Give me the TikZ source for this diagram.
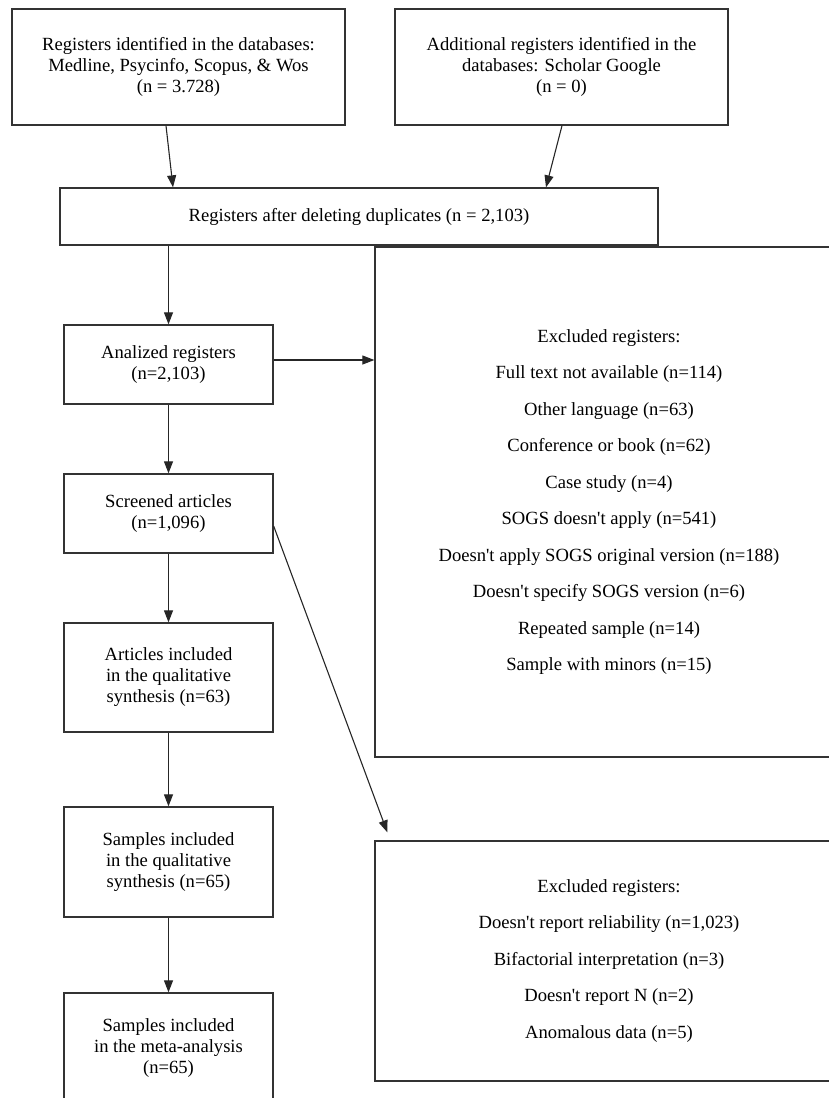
\documentclass[tikz,border=0pt]{standalone}
\usepackage{fontspec}
\setmainfont{Liberation Serif}
\usetikzlibrary{arrows.meta}

\begin{document}
\begin{tikzpicture}[x=1pt,y=-1pt,
    box/.style={draw=black!80,line width=1.3pt,align=center,inner sep=0pt,
      font=\fontsize{18.6}{21}\selectfont},
    exclbox/.style={box,font=\fontsize{18.6}{36.5}\selectfont},
    arr/.style={draw=black!85,line width=1.1pt,-{Triangle[length=12pt,width=9pt]}}]
    \useasboundingbox (0,0) rectangle (829,1098);
    \clip (0,0) rectangle (829,1098);
%    top row
    \node[box,minimum width=333pt,minimum height=116pt] (regdb) at (178.5,67)
      {Registers identified in the databases:\\Medline, Psycinfo, Scopus, \& Wos\\(n = 3.728)};
    \node[box,minimum width=333pt,minimum height=116pt] (regextra) at (561.5,67)
      {Additional registers identified in the\\databases: Scholar Google\\(n = 0)};
    \node[box,minimum width=598pt,minimum height=57pt] (nodup) at (359,216.5)
      {Registers after deleting duplicates (n = 2,103)};
%    left column
    \node[box,minimum width=209pt,minimum height=79pt] (analized) at (168.5,364.5)
      {Analized registers\\(n=2,103)};
    \node[box,minimum width=209pt,minimum height=79pt] (screened) at (168.5,513.5)
      {Screened articles\\(n=1,096)};
    \node[box,minimum width=209pt,minimum height=109pt] (artqual) at (168.5,677.5)
      {Articles included\\in the qualitative\\synthesis (n=63)};
    \node[box,minimum width=209pt,minimum height=110pt] (sampqual) at (168.5,862)
      {Samples included\\in the qualitative\\synthesis (n=65)};
    \node[box,minimum width=209pt,minimum height=110pt] (sampmeta) at (168.5,1048)
      {Samples included\\in the meta-analysis\\(n=65)};
%    exclusions
    \node[exclbox,minimum width=468pt,minimum height=510pt] (excl1) at (609,502)
      {Excluded registers:\\Full text not available (n=114)\\Other language (n=63)\\
       Conference or book (n=62)\\Case study (n=4)\\SOGS doesn\textquotesingle t apply (n=541)\\
       Doesn\textquotesingle t apply SOGS original version (n=188)\\
       Doesn\textquotesingle t specify SOGS version (n=6)\\Repeated sample (n=14)\\
       Sample with minors (n=15)};
    \node[exclbox,minimum width=468pt,minimum height=240pt] (excl2) at (609,961)
      {Excluded registers:\\Doesn\textquotesingle t report reliability (n=1,023)\\
       Bifactorial interpretation (n=3)\\Doesn\textquotesingle t report N (n=2)\\
       Anomalous data (n=5)};
%    arrows
    \draw[arr] ([xshift=-12.5pt]regdb.south) -- ([xshift=-186pt]nodup.north);
    \draw[arr] ([xshift=0.5pt]regextra.south) -- ([xshift=187pt]nodup.north);
    \draw[arr] (nodup.south -| analized.north) -- (analized.north);
    \draw[arr] ([yshift=4.5pt]analized.east) -- ([yshift=4.5pt]analized.east -| excl1.west);
    \draw[arr] (analized) -- (screened);
    \draw[arr] (screened) -- (artqual);
    \draw[arr] (artqual) -- (sampqual);
    \draw[arr] (sampqual) -- (sampmeta);
    \draw[arr] ([yshift=-12.5pt]screened.east) -- ([xshift=13pt,yshift=8pt]excl2.north west);
\end{tikzpicture}
\end{document}
